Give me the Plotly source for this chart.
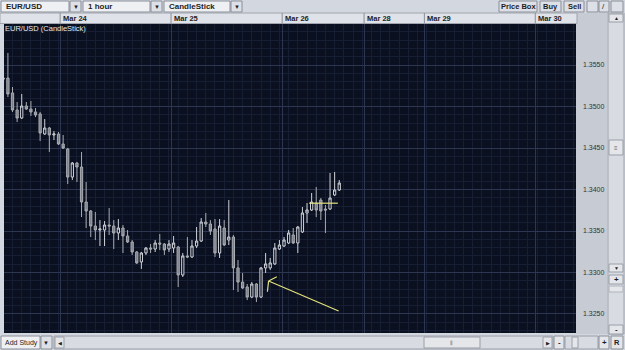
import plotly.graph_objects as go

# ---------------- data ----------------
hours = list(range(74))  # hourly candles, index 0 = first visible hour
open_ = [1.35343, 1.35343, 1.35163, 1.34958, 1.34861, 1.35006, 1.34970, 1.34934, 1.34910, 1.34669,
         1.34741, 1.34657, 1.34669, 1.34548, 1.34488, 1.34150, 1.34319, 1.34271, 1.33849, 1.33741,
         1.33560, 1.33512, 1.33512, 1.33572, 1.33560, 1.33476, 1.33536, 1.33440, 1.33367, 1.33247,
         1.33127, 1.33235, 1.33295, 1.33283, 1.33355, 1.33343, 1.33283, 1.33295, 1.33307, 1.32970,
         1.33199, 1.33187, 1.33319, 1.33379, 1.33608, 1.33584, 1.33524, 1.33235, 1.33536, 1.33391,
         1.33427, 1.33055, 1.32885, 1.32825, 1.32704, 1.32861, 1.32704, 1.33055, 1.33055, 1.33103,
         1.33283, 1.33319, 1.33355, 1.33452, 1.33355, 1.33488, 1.33717, 1.33753, 1.33837, 1.33873,
         1.33765, 1.33765, 1.33934, 1.33994]
high = [1.35464, 1.35645, 1.35235, 1.35054, 1.35151, 1.35054, 1.35066, 1.34982, 1.34934, 1.34849,
        1.34753, 1.34705, 1.34693, 1.34657, 1.34500, 1.34331, 1.34331, 1.34452, 1.34090, 1.33753,
        1.33729, 1.33632, 1.33620, 1.33777, 1.33632, 1.33644, 1.33572, 1.33512, 1.33391, 1.33259,
        1.33247, 1.33307, 1.33343, 1.33391, 1.33464, 1.33355, 1.33391, 1.33440, 1.33319, 1.33235,
        1.33427, 1.33391, 1.33548, 1.33656, 1.33717, 1.33632, 1.33644, 1.33644, 1.33632, 1.33873,
        1.33452, 1.33151, 1.32994, 1.32861, 1.32885, 1.32873, 1.33067, 1.33235, 1.33175, 1.33355,
        1.33391, 1.33427, 1.33512, 1.33536, 1.33560, 1.33789, 1.33837, 1.33958, 1.34030, 1.33897,
        1.33813, 1.34199, 1.34211, 1.34114]
low = [1.35175, 1.35114, 1.34934, 1.34813, 1.34849, 1.34958, 1.34886, 1.34873, 1.34584, 1.34657,
       1.34452, 1.34596, 1.34536, 1.34488, 1.34066, 1.34114, 1.34090, 1.33668, 1.33536, 1.33427,
       1.33391, 1.33319, 1.33319, 1.33452, 1.33283, 1.33391, 1.33235, 1.33355, 1.33211, 1.33103,
       1.33043, 1.33211, 1.33235, 1.33247, 1.33271, 1.33211, 1.33247, 1.33235, 1.32825, 1.32946,
       1.33175, 1.33175, 1.33295, 1.33367, 1.33548, 1.33452, 1.33187, 1.33175, 1.33319, 1.33331,
       1.32789, 1.32765, 1.32801, 1.32668, 1.32692, 1.32644, 1.32692, 1.32994, 1.33031, 1.33091,
       1.33271, 1.33307, 1.33343, 1.33343, 1.33235, 1.33476, 1.33596, 1.33741, 1.33668, 1.33632,
       1.33476, 1.33753, 1.33922, 1.33982]
close = [1.35331, 1.35151, 1.34958, 1.34861, 1.35006, 1.34970, 1.34934, 1.34898, 1.34681, 1.34741,
         1.34657, 1.34669, 1.34548, 1.34500, 1.34150, 1.34319, 1.34271, 1.33849, 1.33741, 1.33560,
         1.33512, 1.33524, 1.33572, 1.33560, 1.33476, 1.33536, 1.33440, 1.33367, 1.33247, 1.33115,
         1.33235, 1.33295, 1.33283, 1.33355, 1.33343, 1.33271, 1.33343, 1.33355, 1.32970, 1.33199,
         1.33187, 1.33319, 1.33379, 1.33608, 1.33584, 1.33500, 1.33235, 1.33560, 1.33331, 1.33427,
         1.33055, 1.32885, 1.32813, 1.32704, 1.32861, 1.32704, 1.33055, 1.33103, 1.33115, 1.33295,
         1.33331, 1.33391, 1.33476, 1.33355, 1.33548, 1.33717, 1.33753, 1.33849, 1.33753, 1.33741,
         1.33753, 1.33897, 1.33994, 1.34078]

price_ticks = [1.3250, 1.3300, 1.3350, 1.3400, 1.3450, 1.3500, 1.3550]
price_labels = ["1.3250", "1.3300", "1.3350", "1.3400", "1.3450", "1.3500", "1.3550"]
day_pos = [12.35, 36.45, 60.6, 78.4, 91.5, 115.6]
day_labels = ["Mar 24", "Mar 25", "Mar 26", "Mar 28", "Mar 29", "Mar 30"]

level_x = [66.45, 72.7]
level_y = [1.33835, 1.33835]
arrow_x = [72.87, 57.65, 59.43, None, 57.65, 57.39]
arrow_y = [1.32536, 1.32897, 1.32949, None, 1.32897, 1.32768]

x_range = [0.15, 124.45]
y_range = [1.32271, 1.35994]

# ---------------- styles ----------------
W, H = 625, 350
BG = "#0a1020"
UI = "#d3d7df"
PANEL = "#c6cbd4"
HEAD = "#dfe2e8"
TXT = "#1e1e1e"
FONT = "Liberation Sans"

def px(x):
    return x / W

def py(y):
    return 1 - y / H

fig = go.Figure()

fig.add_trace(go.Candlestick(
    x=hours, open=open_, high=high, low=low, close=close,
    increasing=dict(line=dict(color="#cfd2d8", width=1), fillcolor=BG),
    decreasing=dict(line=dict(color="#a9acb2", width=1), fillcolor="#7c7f86"),
    whiskerwidth=0, showlegend=False, hoverinfo="skip",
))

fig.add_trace(go.Scatter(x=level_x, y=level_y, mode="lines",
                         line=dict(color="#e4e27a", width=1.2), showlegend=False, hoverinfo="skip"))
fig.add_trace(go.Scatter(x=arrow_x, y=arrow_y, mode="lines",
                         line=dict(color="#e4e27a", width=1.2), showlegend=False, hoverinfo="skip"))

shapes = []
annots = []

def rect(x0, y0, x1, y1, fill, line="#9a9ea8", lw=1, layer="above"):
    shapes.append(dict(type="rect", xref="paper", yref="paper",
                       x0=px(x0), x1=px(x1), y0=py(y1), y1=py(y0),
                       fillcolor=fill, line=dict(color=line, width=lw), layer=layer))

def text(x, y, s, size=8, color=TXT, anchor="left", bold=False):
    annots.append(dict(xref="paper", yref="paper", x=px(x), y=py(y), text=("<b>%s</b>" % s) if bold else s,
                       showarrow=False, xanchor=anchor, yanchor="middle",
                       font=dict(family=FONT, size=size, color=color)))

# top toolbar dropdowns
for (x0, x1, label) in [(1, 69, "EUR/USD"), (83, 150, "1 hour"), (164, 230, "CandleStick")]:
    rect(x0, 1, x1, 12, "#eef0f3", "#8a8e98")
    text(x0 + 3, 6.5, label, size=8, bold=True)
    rect(x1 + 1, 1, x1 + 12, 12, "#dde0e6", "#8a8e98")
    text(x1 + 6.5, 6.5, "▼", size=6, anchor="center")

# top right buttons
for (x0, x1, label) in [(499, 537, "Price Box"), (540, 561, "Buy"), (564, 584, "Sell")]:
    rect(x0, 1, x1, 12, "#dde0e6", "#8a8e98")
    text((x0 + x1) / 2, 6.5, label, size=7.5, anchor="center", bold=True)
rect(587, 1, 598, 12, "#dde0e6", "#8a8e98")
rect(599, 1, 609, 12, "#dde0e6", "#8a8e98")
text(603.5, 6.5, "/", size=8, anchor="center")
rect(611, 1, 623, 12, "#dde0e6", "#8a8e98")

# date header band
rect(0, 13, 577, 23.5, HEAD, "#a0a4ac")
for p, lab in zip(day_pos, day_labels):
    shapes.append(dict(type="line", xref="x", yref="paper", x0=p, x1=p, y0=py(23.5), y1=py(13),
                       line=dict(color="#8a8e98", width=1), layer="above"))
    annots.append(dict(xref="x", yref="paper", x=p, y=py(18.3), text="<b>%s</b>" % lab, showarrow=False,
                       xanchor="left", yanchor="middle", xshift=1,
                       font=dict(family=FONT, size=7.5, color=TXT)))

# right price panel and scroll column (below so tick labels stay visible)
rect(576, 13, 607, 334, PANEL, PANEL, 0, layer="below")
rect(608, 13, 624, 334, "#d8dbe1", "#a0a4ac")
rect(609, 14, 623, 22, "#e4e6ea", "#9a9ea8")
text(616, 18, "▲", size=5, anchor="center")
rect(609, 140, 623, 155, "#e4e6ea", "#9a9ea8")
text(616, 147.5, "≡", size=6, anchor="center", color="#666")
rect(609, 264, 623, 272, "#e4e6ea", "#9a9ea8")
text(616, 268, "▼", size=5, anchor="center")
rect(609, 275, 623, 284, "#e4e6ea", "#9a9ea8")
text(616, 279.5, "<b>+</b>", size=8, anchor="center")
rect(609, 286, 623, 292, "#e4e6ea", "#b0b4bc")
rect(609, 325, 623, 334, "#e4e6ea", "#9a9ea8")
text(616, 329.5, "<b>-</b>", size=8, anchor="center")

# chart label
text(3, 28.5, "EUR/USD (CandleStick)", size=7.5, color="#e6e8ee")

# bottom bar
rect(1, 336, 40, 349, "#eef0f3", "#8a8e98")
text(3, 342.5, "Add Study", size=7, bold=False)
rect(41, 336, 52, 349, "#dde0e6", "#8a8e98")
text(46.5, 342.5, "▼", size=6, anchor="center")
rect(54, 336, 553, 349, "#d8dbe1", "#9a9ea8")
rect(55, 337, 64, 348, "#e4e6ea", "#9a9ea8")
text(59.5, 342.5, "◀", size=5, anchor="center")
rect(424, 337, 480, 348, "#e4e6ea", "#9a9ea8")
text(452, 342.5, "⦀", size=6, anchor="center", color="#777")
rect(543, 337, 552, 348, "#e4e6ea", "#9a9ea8")
text(547.5, 342.5, "▶", size=5, anchor="center")
rect(554, 336, 564, 349, "#e4e6ea", "#8a8e98")
text(559, 342.5, "<b>-</b>", size=8, anchor="center")
rect(565, 336, 598, 349, "#d8dbe1", "#9a9ea8")
rect(572, 337, 578, 348, "#e4e6ea", "#9a9ea8")
rect(599, 336, 609, 349, "#e4e6ea", "#8a8e98")
text(604, 342.5, "<b>+</b>", size=8, anchor="center")
rect(611, 336, 623, 349, "#e4e6ea", "#8a8e98")
text(617, 342.5, "<b>R</b>", size=7.5, anchor="center")

fig.update_layout(
    width=W, height=H,
    margin=dict(l=0, r=0, t=0, b=0),
    paper_bgcolor=UI,
    plot_bgcolor=BG,
    showlegend=False,
    shapes=shapes,
    annotations=annots,
    boxgap=0.3,
    xaxis=dict(domain=[px(4), px(576)], range=x_range, rangeslider=dict(visible=False),
               showticklabels=False, ticks="", tickmode="array", tickvals=day_pos,
               showgrid=True, gridcolor="#2c3650", gridwidth=1, zeroline=False,
               minor=dict(dtick=2, tick0=0, showgrid=True, gridcolor="#161e33", gridwidth=1),
               showline=False, fixedrange=True),
    yaxis=dict(domain=[py(333), py(24)], range=y_range, side="right",
               tickmode="array", tickvals=price_ticks, ticktext=price_labels,
               ticks="", ticklabelstandoff=6,
               tickfont=dict(family=FONT, size=7, color="#333"),
               showgrid=True, gridcolor="#2c3650", gridwidth=1, zeroline=False,
               minor=dict(dtick=0.001, tick0=1.325, showgrid=True, gridcolor="#161e33", gridwidth=1),
               showline=False, fixedrange=True),
)

fig.write_html("out.html")
